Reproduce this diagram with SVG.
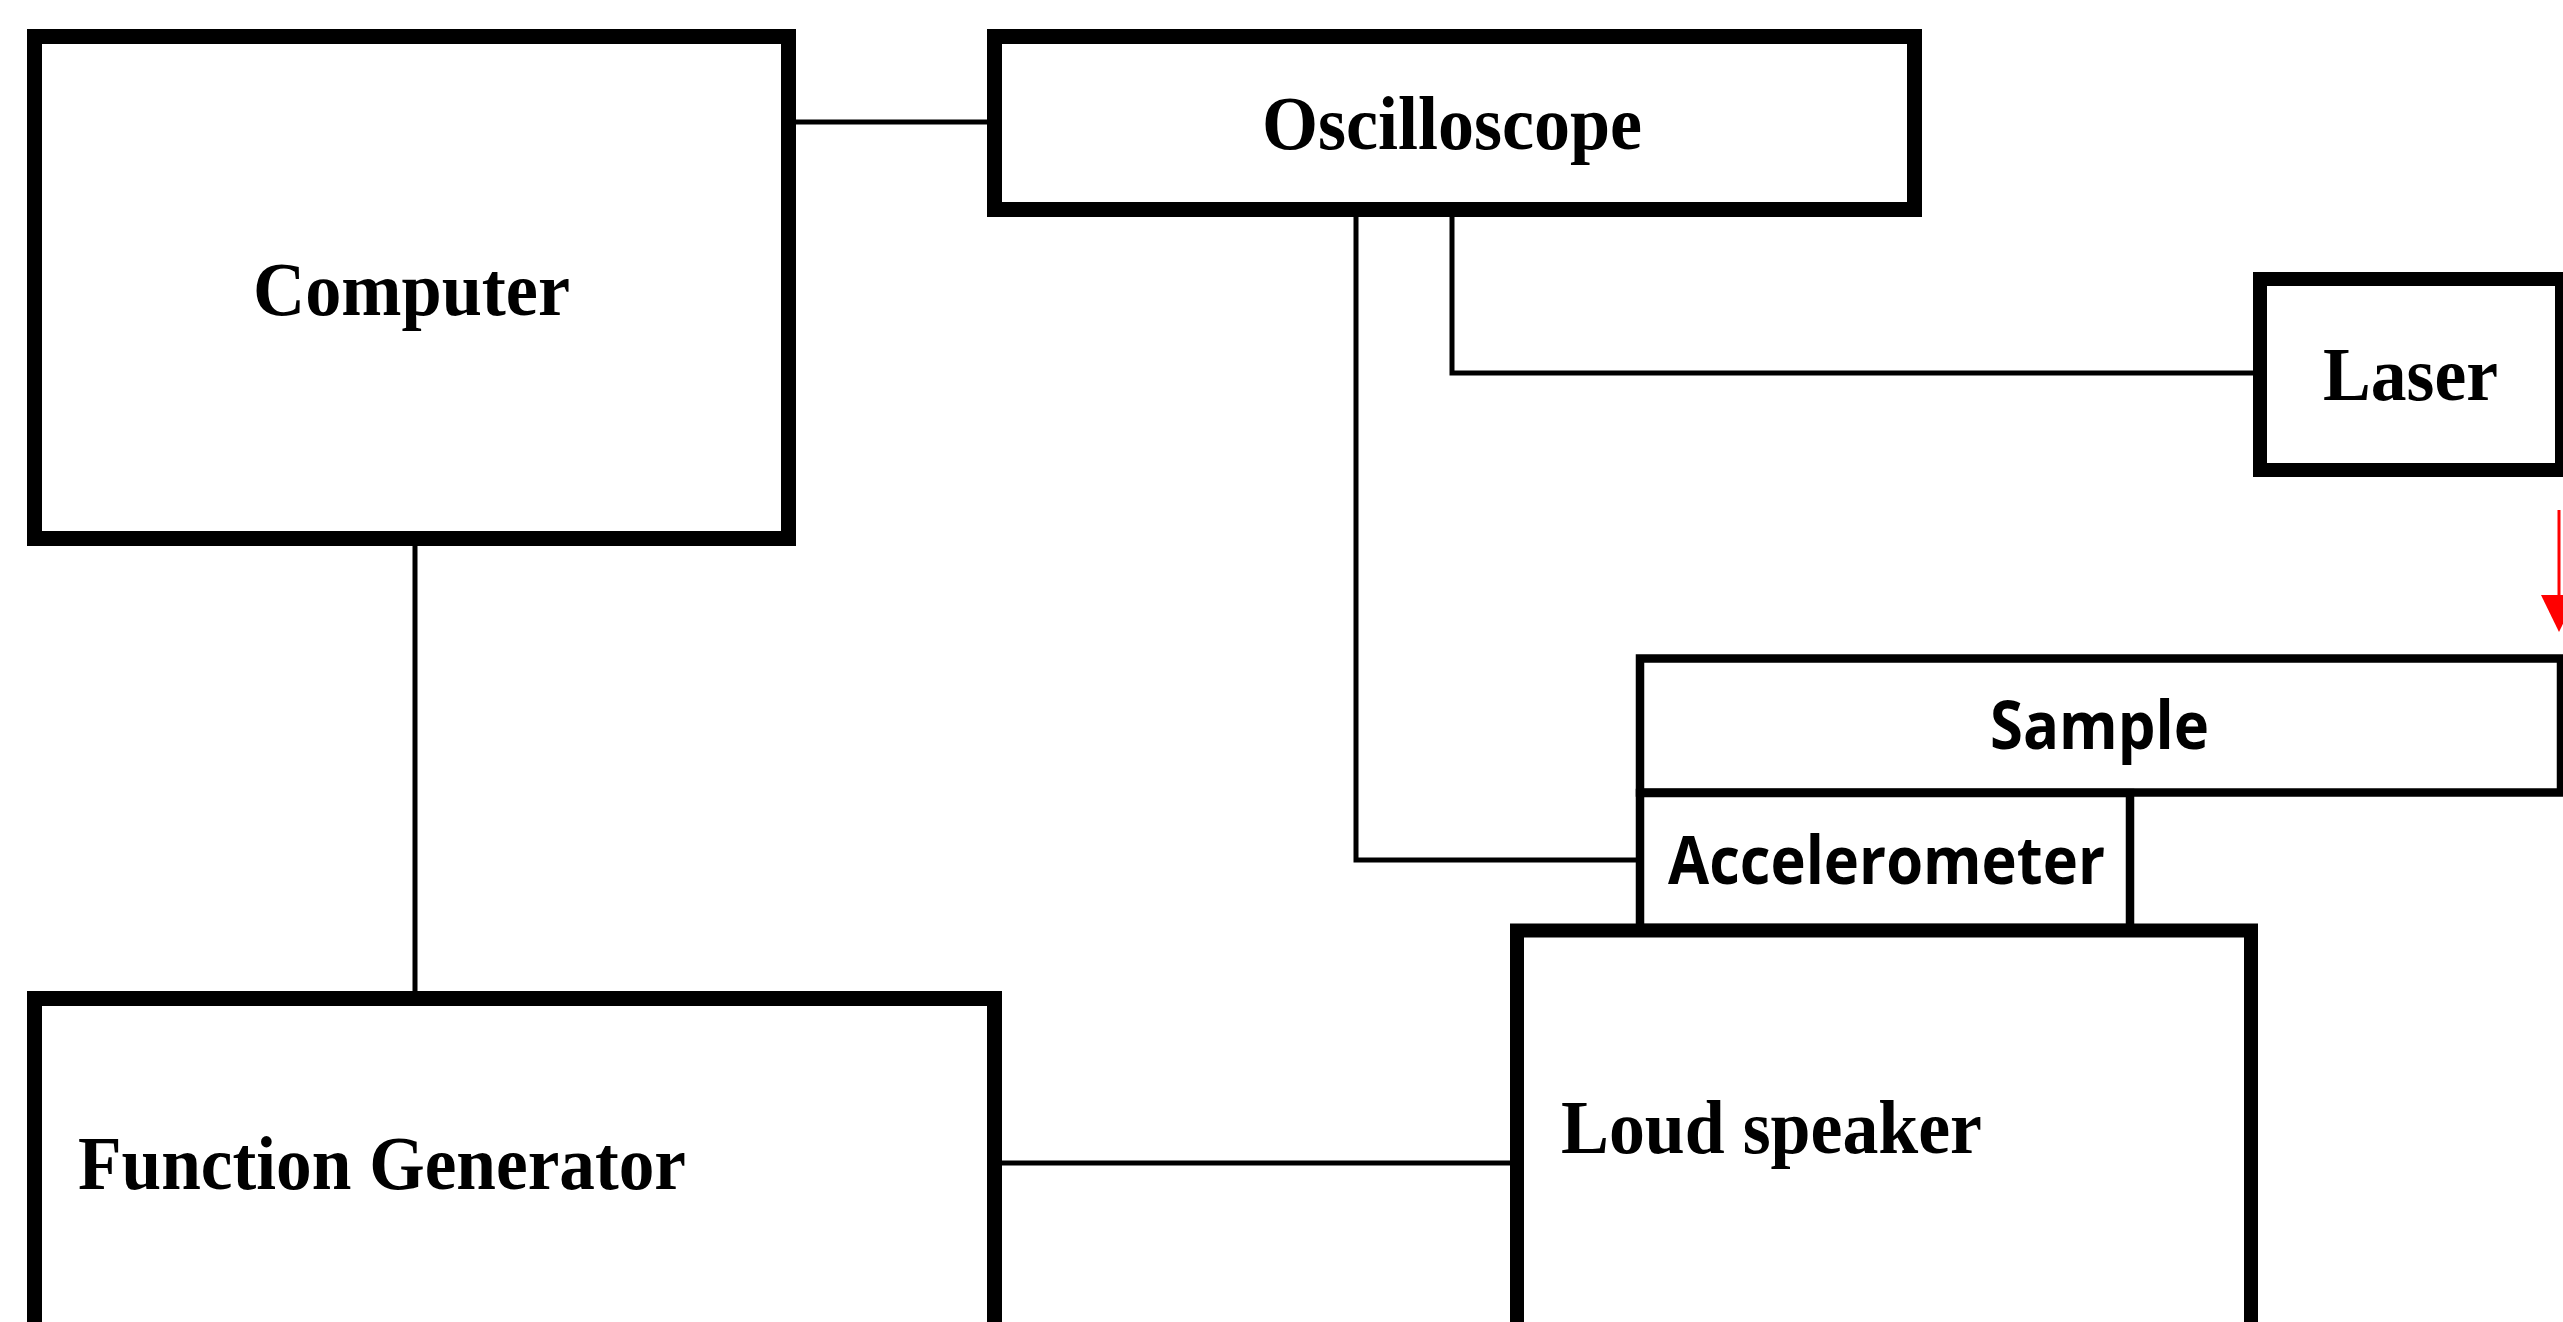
<svg xmlns="http://www.w3.org/2000/svg" width="2563" height="1322" viewBox="0 0 2563 1322">
<style>
.box{fill:#fff;stroke:#000;stroke-width:15}
.thin{fill:#fff;stroke:#000;stroke-width:8.5}
.serif{font-family:"Liberation Serif","Times New Roman",serif;font-weight:bold;font-size:77px;fill:#000}
.sans{font-family:"Open Sans","Noto Sans",sans-serif;font-weight:bold;font-size:66px;fill:#000}
.wire{fill:none;stroke:#000;stroke-width:5}
</style>
<defs>
<marker id="redhead" viewBox="0 0 36 38" refX="18" refY="38" markerWidth="36" markerHeight="38" markerUnits="userSpaceOnUse" orient="auto-start-reverse">
<path d="M0 0 L36 0 L18 38 Z" fill="#ff0000"/>
</marker>
</defs>
<rect width="2563" height="1322" fill="#fff"/>
<g id="connectors">
<path class="wire" d="M796 122 H987"/>
<path class="wire" d="M415 546 V991"/>
<path class="wire" d="M1356 217 V860 H1636"/>
<path class="wire" d="M1452 217 V373 H2253"/>
<path class="wire" d="M1002 1163 H1510"/>
<path d="M2559 510 V595" stroke="#ff0000" stroke-width="3" fill="none"/>
<path d="M2541 595 L2577 595 L2559 632 Z" fill="#ff0000"/>
</g>
<g id="computer">
<rect class="box" x="34.5" y="36.5" width="754" height="502"/>
<text class="serif" x="253" y="315" textLength="317" lengthAdjust="spacingAndGlyphs">Computer</text>
</g>
<g id="oscilloscope">
<rect class="box" x="994.5" y="36.5" width="920" height="173"/>
<text class="serif" x="1262" y="149" textLength="380" lengthAdjust="spacingAndGlyphs">Oscilloscope</text>
</g>
<g id="laser">
<rect class="box" x="2260" y="279" width="302" height="191" style="stroke-width:14"/>
<text class="serif" x="2323" y="400" textLength="175" lengthAdjust="spacingAndGlyphs">Laser</text>
</g>
<g id="sample">
<rect class="thin" x="1640" y="658.5" width="921" height="134"/>
<text class="sans" x="1990" y="749" textLength="219" lengthAdjust="spacingAndGlyphs">Sample</text>
</g>
<g id="accelerometer">
<rect class="thin" x="1640" y="793" width="490" height="135"/>
<text class="sans" x="1668" y="884" textLength="437" lengthAdjust="spacingAndGlyphs">Accelerometer</text>
</g>
<g id="loudspeaker">
<rect class="box" x="1517" y="930.5" width="734" height="500" style="stroke-width:14"/>
<text class="serif" x="1561" y="1153" textLength="421" lengthAdjust="spacingAndGlyphs">Loud speaker</text>
</g>
<g id="function-generator">
<rect class="box" x="34.5" y="998.5" width="960" height="400"/>
<text class="serif" x="78" y="1189" textLength="608" lengthAdjust="spacingAndGlyphs">Function Generator</text>
</g>
</svg>
